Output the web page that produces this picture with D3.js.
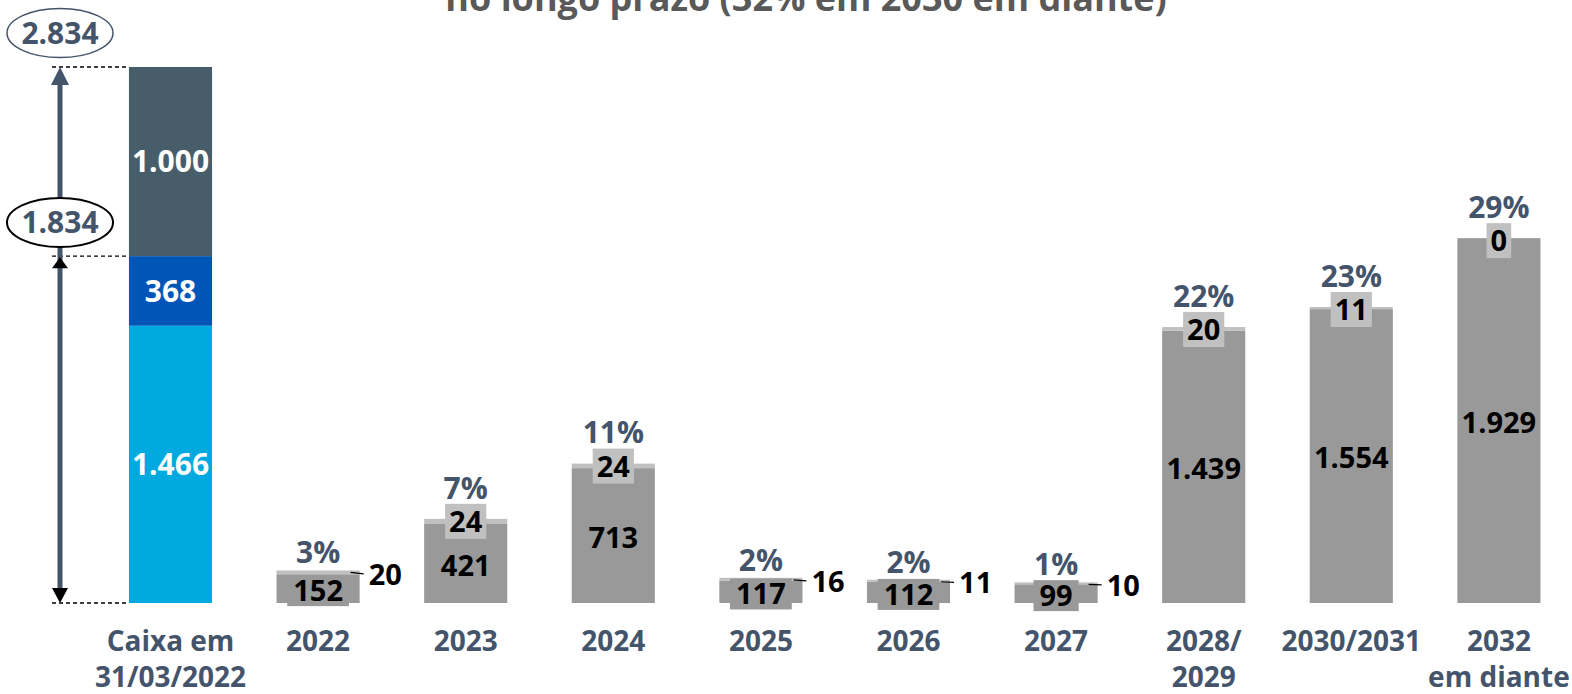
<!DOCTYPE html>
<html lang="pt-BR">
<head>
<meta charset="utf-8">
<script src="https://cdn.jsdelivr.net/npm/d3@7"></script>
<style>
  html, body { margin: 0; padding: 0; background: #ffffff; }
  svg { display: block; }
  text { font-family: "Open Sans", "Noto Sans", sans-serif; font-weight: 700; }
</style>
</head>
<body>
<svg id="chart" width="1572" height="694"></svg>
<script>
// Categories (line breaks marked with "\n")
const categories = [
  "Caixa em\n31/03/2022", "2022", "2023", "2024", "2025", "2026", "2027",
  "2028/\n2029", "2030/2031", "2032\nem diante"
];

// Cash position on 31/03/2022, stacked bottom to top
const cashNames  = ["Caixa", "Linha", "Liquidez adicional"];
const cashValues = [1466, 368, 1000];
const cashColors = ["#00a9e0", "#0056b8", "#475e6a"];

// Debt amortization per period: principal and the smaller top portion
const principalValues = [152, 421, 713, 117, 112, 99, 1439, 1554, 1929];
const topValues       = [20, 24, 24, 16, 11, 10, 20, 11, 0];
const shareLabels     = ["3%", "7%", "11%", "2%", "2%", "1%", "22%", "23%", "29%"];

const title = "no longo prazo (32% em 2030 em diante)";

const ptBR = d3.formatLocale({ decimal: ",", thousands: ".", grouping: [3], currency: ["R$ ", ""] });
const fmt = ptBR.format(",d");

const svg = d3.select("#chart");

const slate = "#44546a";
const barGray = "#999999";
const lightGray = "#c0c0c0";

const cashTotal = d3.sum(cashValues);
const cashPartial = cashValues[0] + cashValues[1];

const x = d3.scaleBand()
  .domain(categories)
  .range([96.7, 1572.7])
  .paddingInner(0.437)
  .paddingOuter(0.2185);

const y = d3.scaleLinear()
  .domain([0, cashTotal])
  .range([603, 67]);

// Title (runs off the top edge)
svg.append("text")
  .attr("x", 806).attr("y", 11)
  .attr("text-anchor", "middle")
  .attr("fill", "#595959")
  .style("font-size", "36px")
  .text(title);

// ---- Stacked cash bar ----
const stack = [];
let acc = 0;
cashValues.forEach((v, i) => { stack.push({ name: cashNames[i], v, y0: acc, y1: acc + v, color: cashColors[i] }); acc += v; });

const cashG = svg.append("g");
cashG.selectAll("rect").data(stack).join("rect")
  .attr("x", x(categories[0]))
  .attr("width", x.bandwidth())
  .attr("y", d => y(d.y1))
  .attr("height", d => y(d.y0) - y(d.y1))
  .attr("fill", d => d.color);

cashG.selectAll("text").data(stack).join("text")
  .attr("x", x(categories[0]) + x.bandwidth() / 2)
  .attr("y", d => (y(d.y0) + y(d.y1)) / 2)
  .attr("dy", "0.36em")
  .attr("text-anchor", "middle")
  .attr("fill", "#ffffff")
  .style("font-size", "30px")
  .text(d => fmt(d.v));

// ---- Cumulative totals annotation (arrows, guides, ellipses) ----
const ax = 60;
const ann = svg.append("g");
const guideLevels = [cashTotal, cashPartial, 0];
ann.selectAll("line.guide").data(guideLevels).join("line")
  .attr("class", "guide")
  .attr("x1", 52).attr("x2", x(categories[0]))
  .attr("y1", d => y(d)).attr("y2", d => y(d))
  .attr("stroke", "#000").attr("stroke-width", 1.3)
  .attr("stroke-dasharray", "4,3");

ann.append("line")
  .attr("x1", ax).attr("x2", ax)
  .attr("y1", y(cashTotal) + 8).attr("y2", y(0) - 6)
  .attr("stroke", slate).attr("stroke-width", 5);

function arrowHead(tipY, dir, len, half, color) {
  const baseY = tipY + dir * len;
  ann.append("path")
    .attr("d", `M${ax},${tipY} L${ax - half},${baseY} L${ax + half},${baseY} Z`)
    .attr("fill", color);
}
arrowHead(y(cashTotal), 1, 18, 9, slate);
arrowHead(y(cashPartial) + 1, 1, 11, 8, "#000");
arrowHead(y(0), -1, 15, 8, "#000");

const bubbles = [
  { v: cashTotal, cy: 33, stroke: slate, sw: 1.5 },
  { v: cashPartial, cy: 222.5, stroke: "#000", sw: 2 }
];
const bG = ann.selectAll("g.bubble").data(bubbles).join("g").attr("class", "bubble");
bG.append("ellipse")
  .attr("cx", ax).attr("cy", d => d.cy)
  .attr("rx", 53).attr("ry", 24.5)
  .attr("fill", "#fff")
  .attr("stroke", d => d.stroke).attr("stroke-width", d => d.sw);
bG.append("text")
  .attr("x", ax).attr("y", d => d.cy)
  .attr("dy", "0.36em")
  .attr("text-anchor", "middle")
  .attr("fill", slate)
  .style("font-size", "30px")
  .text(d => fmt(d.v));

// ---- Amortization bars ----
const rows = principalValues.map((p, i) => ({
  cat: categories[i + 1], p, t: topValues[i], share: shareLabels[i]
}));
const isSmall = d => d.p < 200;

const barsG = svg.append("g");
barsG.selectAll("rect.main").data(rows).join("rect")
  .attr("class", "main")
  .attr("x", d => x(d.cat)).attr("width", x.bandwidth())
  .attr("y", d => y(d.p)).attr("height", d => y(0) - y(d.p))
  .attr("fill", barGray);
barsG.selectAll("rect.top").data(rows).join("rect")
  .attr("class", "top")
  .attr("x", d => x(d.cat)).attr("width", x.bandwidth())
  .attr("y", d => y(d.p + d.t)).attr("height", d => y(d.p) - y(d.p + d.t))
  .attr("fill", lightGray);

// principal labels; short bars get a bar-coloured plate behind the number
const pl = svg.append("g").selectAll("g").data(rows).join("g")
  .attr("transform", d => `translate(${x(d.cat) + x.bandwidth() / 2},${(y(0) + y(d.p)) / 2 + 2})`);
pl.append("text")
  .attr("dy", "0.36em").attr("text-anchor", "middle")
  .attr("fill", "#000").style("font-size", "29px")
  .text(d => fmt(d.p));
pl.filter(d => y(0) - y(d.p) < 34).each(function () {
  const g = d3.select(this);
  const w = g.select("text").node().getComputedTextLength();
  g.insert("rect", "text")
    .attr("x", -w / 2 - 6).attr("width", w + 12)
    .attr("y", -15.5).attr("height", 31)
    .attr("fill", barGray);
});

// top-portion labels
const tl = svg.append("g").selectAll("g").data(rows).join("g");
tl.each(function (d) {
  const g = d3.select(this);
  const cx = x(d.cat) + x.bandwidth() / 2;
  const yt = y(d.p + d.t);
  if (isSmall(d)) {
    const right = x(d.cat) + x.bandwidth();
    const ly = (y(d.p) + yt) / 2 + 2;
    g.append("line")
      .attr("x1", right - 9).attr("y1", yt + 2)
      .attr("x2", right + 4).attr("y2", ly - 0.5)
      .attr("stroke", "#000").attr("stroke-width", 1.2);
    g.append("text")
      .attr("x", right + 9).attr("y", ly)
      .attr("dy", "0.36em").attr("fill", "#000")
      .style("font-size", "29px")
      .text(fmt(d.t));
  } else {
    const t = g.append("text")
      .attr("x", cx).attr("y", yt + 2.5)
      .attr("dy", "0.36em").attr("text-anchor", "middle")
      .attr("fill", "#000").style("font-size", "29px")
      .text(fmt(d.t));
    const w = t.node().getComputedTextLength();
    g.insert("rect", "text")
      .attr("x", cx - w / 2 - 4).attr("width", w + 8)
      .attr("y", yt + 2.5 - 17.5).attr("height", 35)
      .attr("fill", lightGray);
  }
});

// share-of-debt labels
svg.append("g").selectAll("text").data(rows).join("text")
  .attr("x", d => x(d.cat) + x.bandwidth() / 2)
  .attr("y", d => y(d.p + d.t) - (isSmall(d) ? 18 : 31))
  .attr("dy", "0.36em").attr("text-anchor", "middle")
  .attr("fill", slate).style("font-size", "30px")
  .text(d => d.share);

// ---- Category axis ----
const axis = svg.append("g")
  .attr("transform", `translate(0,${y(0)})`)
  .call(d3.axisBottom(x).tickSize(0).tickFormat(""));
axis.select(".domain").remove();
axis.selectAll(".tick").each(function (d) {
  const lines = d.split("\n");
  const t = d3.select(this).append("text")
    .attr("fill", slate)
    .attr("text-anchor", "middle")
    .style("font-size", "28px")
    .style("font-family", "'Open Sans', sans-serif")
    .style("font-weight", "700");
  lines.forEach((ln, i) => {
    t.append("tspan").attr("x", 0).attr("y", 38 + i * 36).attr("dy", "0.36em").text(ln);
  });
});
</script>
</body>
</html>
